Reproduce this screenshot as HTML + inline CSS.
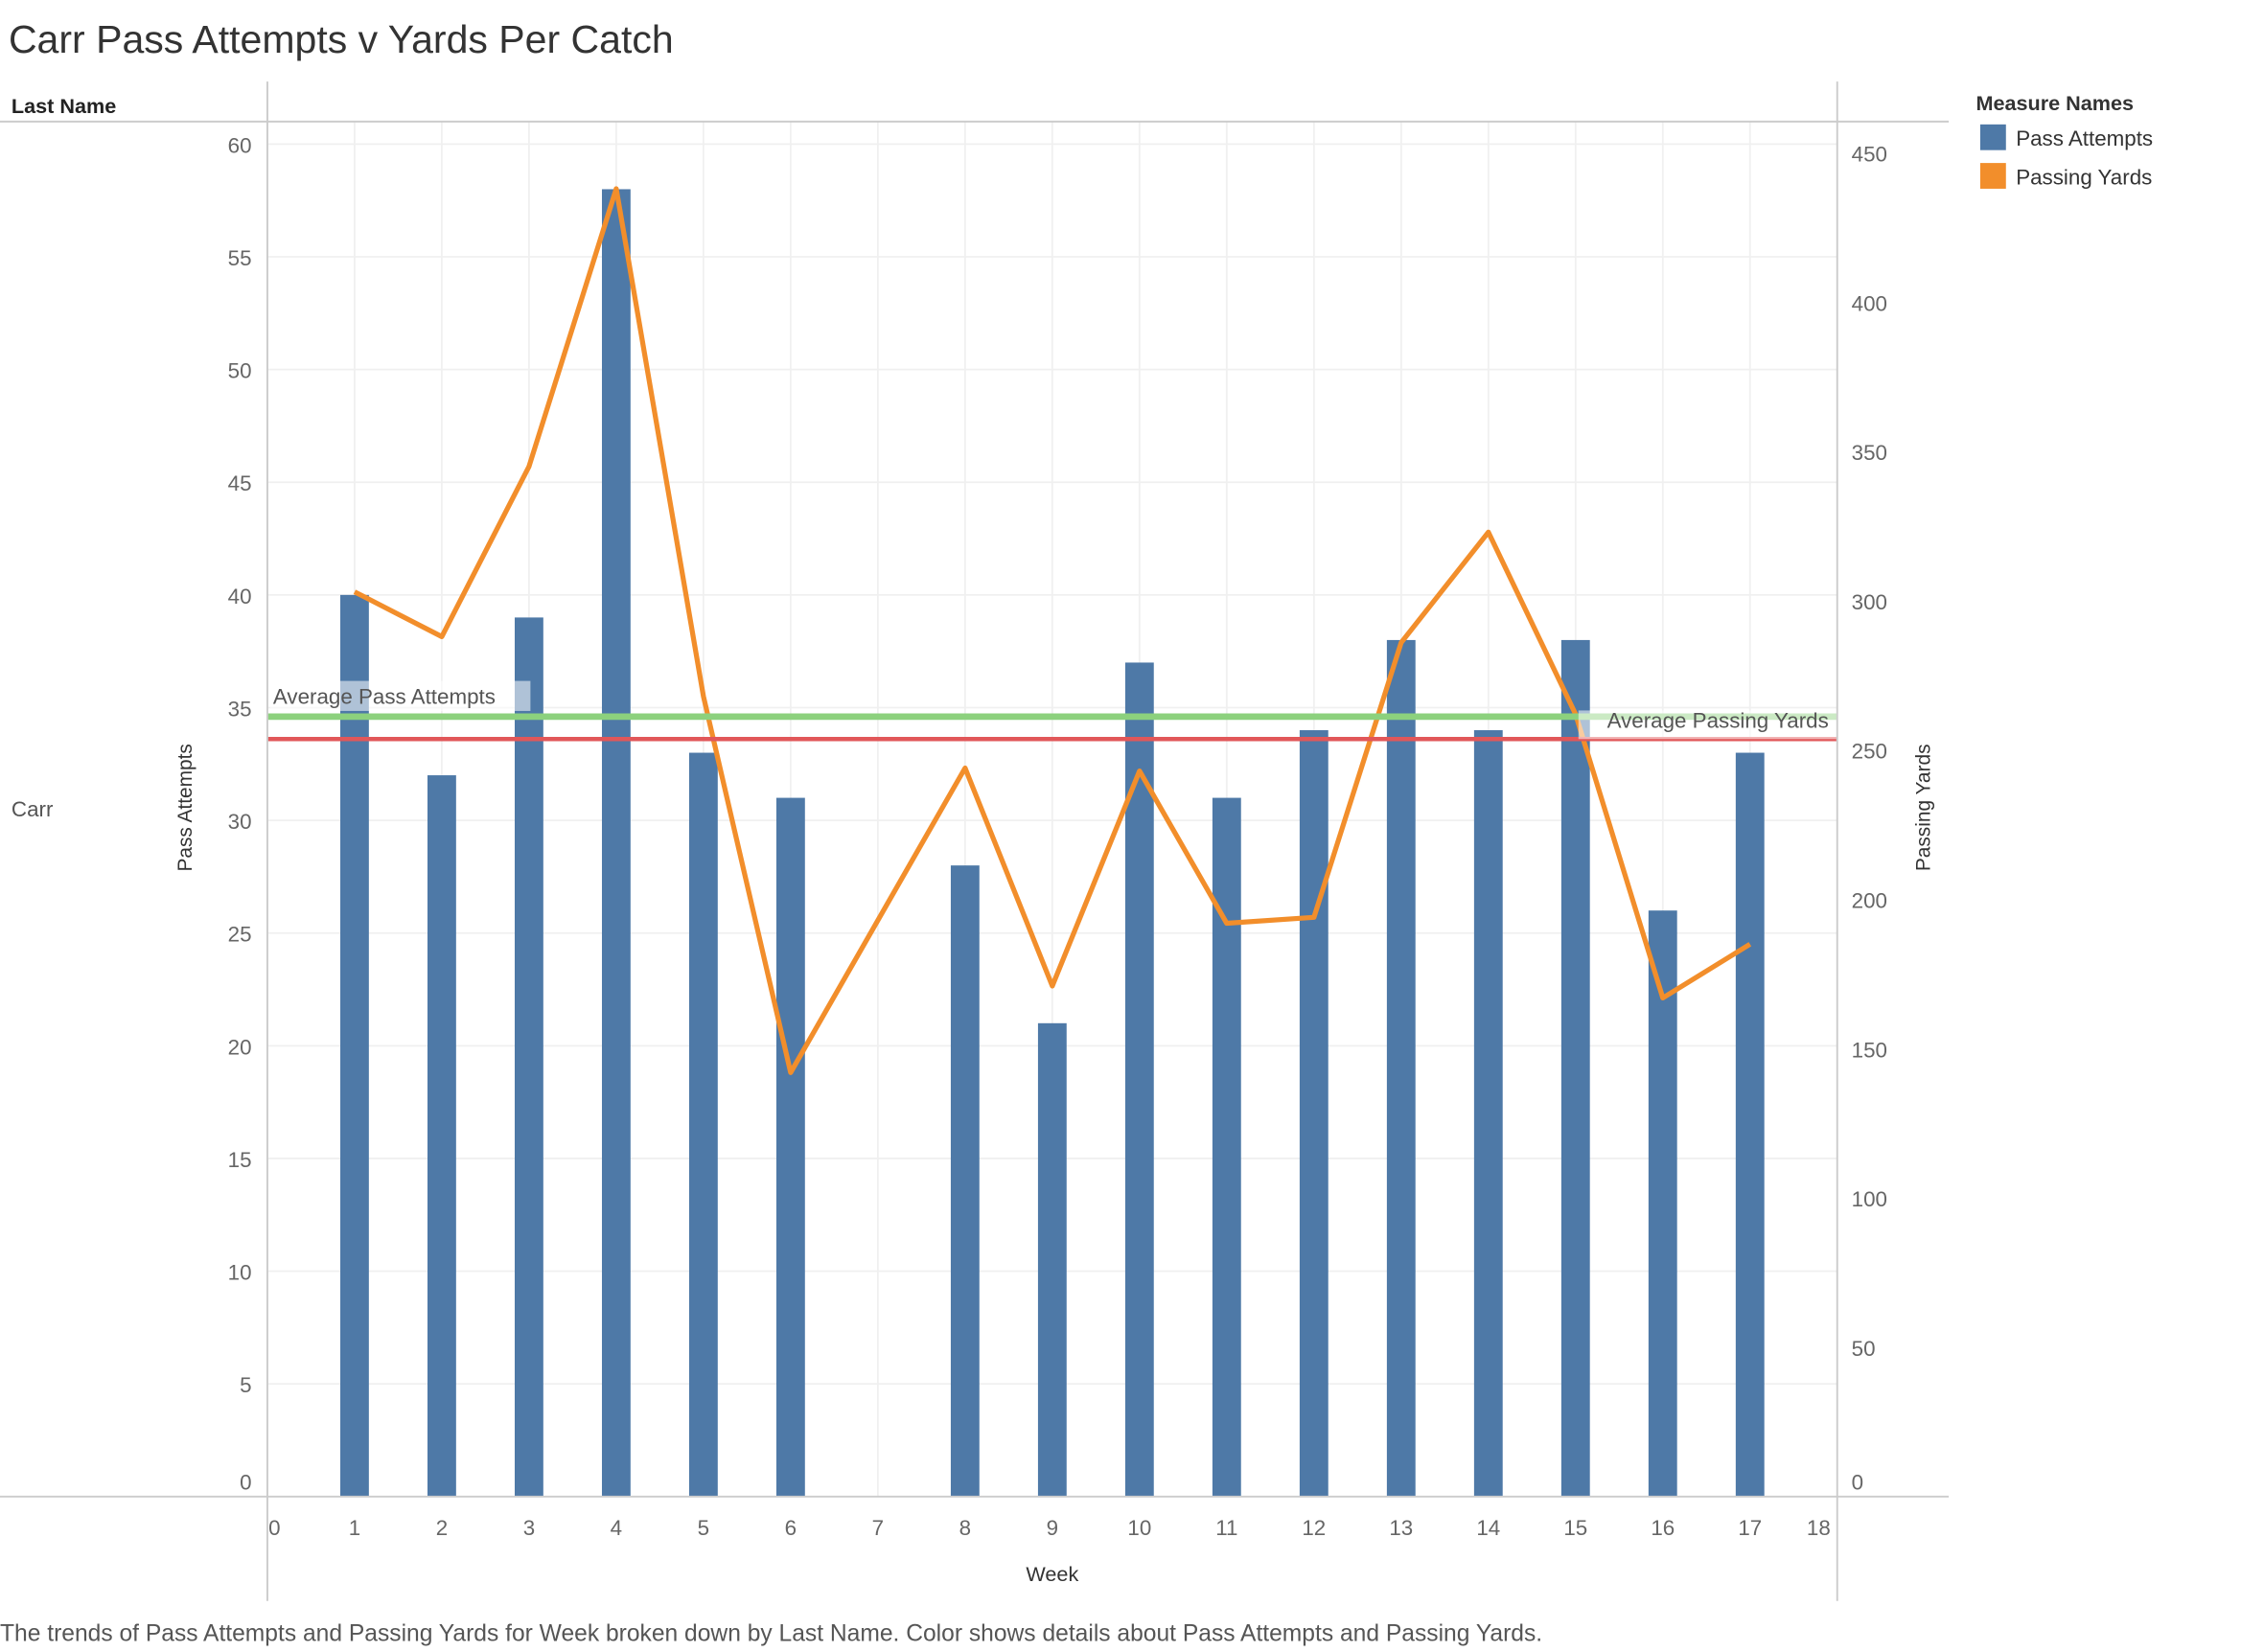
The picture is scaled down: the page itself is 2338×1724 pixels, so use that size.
<!DOCTYPE html>
<html><head><meta charset="utf-8"><style>
html,body{margin:0;padding:0;background:#fff;}
svg{display:block;font-family:"Liberation Sans","DejaVu Sans",sans-serif;}
</style></head><body>
<svg id="chart" width="2338" height="1724" viewBox="0 0 1567.4 1155.7" xmlns="http://www.w3.org/2000/svg">
<text x="6" y="37" font-size="27.5" fill="#333">Carr Pass Attempts v Yards Per Catch</text>
<text x="8" y="79" font-size="14.5" font-weight="bold" fill="#222">Last Name</text>
<g id="grid"></g>
<g id="marks"></g>
<line x1="0" y1="85" x2="1363" y2="85" stroke="#ccc" stroke-width="1.3"/>
<line x1="0" y1="1047" x2="1363" y2="1047" stroke="#ccc" stroke-width="1.3"/>
<line x1="187" y1="57" x2="187" y2="1120" stroke="#ccc" stroke-width="1.3"/>
<line x1="1285" y1="57" x2="1285" y2="1120" stroke="#ccc" stroke-width="1.3"/>
<text x="8" y="571" font-size="15" fill="#555">Carr</text>
<text transform="translate(134,565) rotate(-90)" text-anchor="middle" font-size="14" fill="#333">Pass Attempts</text>
<text transform="translate(1350,565) rotate(-90)" text-anchor="middle" font-size="14" fill="#333">Passing Yards</text>
<text x="736" y="1106" text-anchor="middle" font-size="14.5" fill="#333">Week</text>
<g id="ticks"></g>
<text x="1382" y="77" font-size="14.5" font-weight="bold" fill="#333">Measure Names</text>
<rect x="1385" y="87" width="18" height="18" fill="#4e79a7"/>
<text x="1410" y="102" font-size="15" fill="#333">Pass Attempts</text>
<rect x="1385" y="114" width="18" height="18" fill="#f28e2b"/>
<text x="1410" y="129" font-size="15" fill="#333">Passing Yards</text>
<text x="0" y="1148" font-size="16.5" fill="#555">The trends of Pass Attempts and Passing Yards for Week broken down by Last Name.  Color shows details about Pass Attempts and Passing Yards.</text>
</svg>
<script>
const weeks=[1,2,3,4,5,6,8,9,10,11,12,13,14,15,16,17];
const passAttempts=[40,32,39,58,33,31,28,21,37,31,34,38,34,38,26,33];
const passingYards=[303,288,345,438,268,142,244,171,243,192,194,286,323,262,167,185];
const avgPassAttempts=34.6;
const avgPassingYards=253.7;
const leftTicks=[0,5,10,15,20,25,30,35,40,45,50,55,60];
const rightTicks=[0,50,100,150,200,250,300,350,400,450];
const xTicks=[0,1,2,3,4,5,6,7,8,9,10,11,12,13,14,15,16,17,18];
const NS='http://www.w3.org/2000/svg';
const X=w=>187+w*61;
const YL=v=>1047-v*15.77;
const YR=v=>1047-v*2.089;
function mk(t,a,p){const e=document.createElementNS(NS,t);for(const k in a)e.setAttribute(k,a[k]);p.appendChild(e);return e;}
const grid=document.getElementById('grid'),marks=document.getElementById('marks'),ticks=document.getElementById('ticks');
xTicks.forEach(w=>{if(w>0&&w<18){const l=mk('line',{x1:X(w),x2:X(w),y1:85,y2:1047,stroke:'#f0f0f0','stroke-width':1.2},grid);

}
const t=mk('text',{x:X(w)+(w==0?5:w==18?-13:0),y:1074,'text-anchor':'middle','font-size':15,fill:'#666'},ticks);t.textContent=w;

});
leftTicks.forEach(v=>{if(v>0){const l=mk('line',{x1:187,x2:1285,y1:YL(v),y2:YL(v),stroke:'#f0f0f0','stroke-width':1.2},grid);

}
const t=mk('text',{x:176,y:YL(v)+(v==0?-5:6),'text-anchor':'end','font-size':15,fill:'#666'},ticks);t.textContent=v;

});
rightTicks.forEach(v=>{const t=mk('text',{x:1295,y:YR(v)+(v==0?-5:6),'font-size':15,fill:'#666'},ticks);t.textContent=v;

});
weeks.forEach((w,i)=>{const r=mk('rect',{x:X(w)-10,y:YL(passAttempts[i]),width:20,height:1047-YL(passAttempts[i]),fill:'#4e79a7'},marks);

});
const pts=weeks.map((w,i)=>X(w)+','+YR(passingYards[i])).join(' ');
const pl=mk('polyline',{points:pts,fill:'none',stroke:'#f28e2b','stroke-width':3.5,'stroke-linejoin':'round'},marks);


const g=mk('line',{x1:187,x2:1285,y1:YL(avgPassAttempts),y2:YL(avgPassAttempts),stroke:'#8cd17d','stroke-width':4.5},marks);


const rd=mk('line',{x1:187,x2:1285,y1:YR(avgPassingYards),y2:YR(avgPassingYards),stroke:'#e15759','stroke-width':3},marks);


const b1=mk('rect',{x:189,y:YL(avgPassAttempts)-25,width:182,height:21,fill:'#fff','fill-opacity':0.55},marks);


const t1=mk('text',{x:191,y:YL(avgPassAttempts)-9,'font-size':15,fill:'#555'},marks);t1.textContent='Average Pass Attempts';


const b2=mk('rect',{x:1104,y:YR(avgPassingYards)-20,width:181,height:20,fill:'#fff','fill-opacity':0.55},marks);


const t2=mk('text',{x:1279,y:YR(avgPassingYards)-8,'text-anchor':'end','font-size':15,fill:'#555'},marks);t2.textContent='Average Passing Yards';


</script>
</body></html>
